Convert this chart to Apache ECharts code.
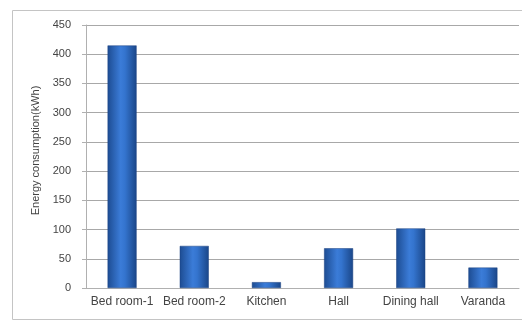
<!DOCTYPE html>
<html>
<head>
<meta charset="utf-8">
<script src="https://cdn.jsdelivr.net/npm/echarts@6/dist/echarts.min.js"></script>
<style>
  html, body { margin: 0; padding: 0; background: #fff; }
  #main { width: 522px; height: 322px; }
</style>
</head>
<body>
<div id="main"></div>
<script>
var rooms = ['Bed room-1', 'Bed room-2', 'Kitchen', 'Hall', 'Dining hall', 'Varanda'];
var energy = [415, 72, 10, 68, 102, 35];
var yTicks = [0, 50, 100, 150, 200, 250, 300, 350, 400, 450];

var myChart = echarts.init(document.getElementById('main'));

// cylinder look: dark edges, lighter centre
var barColor = new echarts.graphic.LinearGradient(0, 0, 1, 0, [
    { offset: 0, color: '#1d4c92' },
    { offset: 0.45, color: '#3b7cd8' },
    { offset: 0.6, color: '#3474ce' },
    { offset: 1, color: '#1a4688' }
]);

var options = {
    animation: false,
    graphic: [{
        type: 'rect',
        shape: { x: 12.5, y: 10.5, width: 520, height: 309 },
        style: { fill: 'none', stroke: '#c4c4c4', lineWidth: 1 }
    }],
    grid: {
        left: 86,
        right: 3,
        top: 25,
        bottom: 34
    },
    xAxis: {
        type: 'category',
        data: rooms,
        axisTick: { show: false },
        axisLine: { show: true, lineStyle: { color: '#b0b0b0' } },
        axisLabel: {
            interval: 0,
            margin: 8,
            color: '#444',
            fontFamily: 'Liberation Sans',
            fontSize: 12
        }
    },
    yAxis: {
        type: 'value',
        min: yTicks[0],
        max: yTicks[yTicks.length - 1],
        interval: 50,
        name: 'Energy consumption(kWh)',
        nameLocation: 'middle',
        nameGap: 42,
        nameTextStyle: {
            color: '#444',
            fontFamily: 'Liberation Sans',
            fontSize: 11,
            padding: [0, 0, 0, 12]
        },
        axisLine: { show: true, lineStyle: { color: '#b0b0b0' } },
        axisTick: { show: true, length: 4, lineStyle: { color: '#b0b0b0' } },
        splitLine: { show: true, lineStyle: { color: '#a8a8a8', width: 1 } },
        axisLabel: {
            color: '#444',
            fontFamily: 'Liberation Sans',
            fontSize: 11,
            margin: 15
        }
    },
    series: [{
        name: 'Energy',
        type: 'bar',
        data: energy,
        barWidth: 29,
        itemStyle: {
            color: barColor,
            borderColor: '#1a4080',
            borderWidth: 0.5
        }
    }]
};
myChart.setOption(options);
</script>
</body>
</html>
